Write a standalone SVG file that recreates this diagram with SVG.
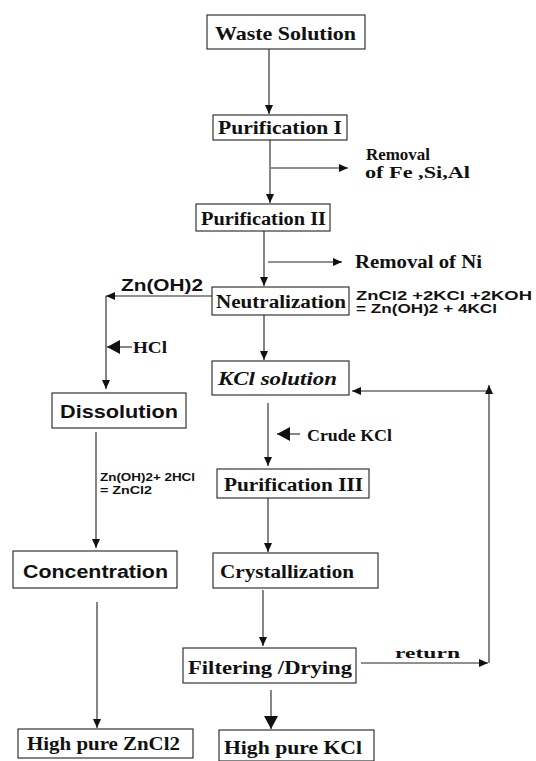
<svg xmlns="http://www.w3.org/2000/svg" width="536" height="761" viewBox="0 0 536 761">
<defs>
<marker id="ah" markerUnits="userSpaceOnUse" markerWidth="10" markerHeight="10" viewBox="0 0 10 10" refX="9" refY="5" orient="auto">
<path d="M0,1 L9,5 L0,9 Z" fill="#111"/>
</marker>
<marker id="ahb" markerUnits="userSpaceOnUse" markerWidth="14" markerHeight="16" viewBox="0 0 14 16" refX="13" refY="8" orient="auto">
<path d="M0,1 L13,8 L0,15 Z" fill="#111"/>
</marker>
</defs>
<style>
.box{fill:#fff;stroke:#222;stroke-width:1.1}
.ln{fill:none;stroke:#222;stroke-width:1.1}
.a{marker-end:url(#ah)}
.ab{marker-end:url(#ahb)}
.sf{font-family:"Liberation Serif","Times New Roman",serif;font-weight:bold;fill:#111}
.ss{font-family:"Liberation Sans",Arial,sans-serif;font-weight:bold;fill:#111}
</style>
<rect width="536" height="761" fill="#fff"/>

<g id="connectors">
<line class="ln a" x1="269" y1="49" x2="269" y2="114"/>
<line class="ln a" x1="270" y1="140" x2="270" y2="203"/>
<line class="ln a" x1="271" y1="168" x2="348" y2="168"/>
<line class="ln a" x1="264" y1="231" x2="264" y2="286"/>
<line class="ln a" x1="268" y1="262" x2="342" y2="262"/>
<line class="ln a" x1="212" y1="296" x2="106" y2="296"/>
<line class="ln a" x1="106" y1="296" x2="106" y2="389"/>
<line class="ln ab" x1="132" y1="347" x2="107" y2="347"/>
<line class="ln a" x1="264" y1="315" x2="264" y2="360"/>
<line class="ln a" x1="489" y1="663" x2="489" y2="385"/>
<line class="ln a" x1="487" y1="391" x2="352" y2="391"/>
<line class="ln a" x1="361" y1="663" x2="488" y2="663"/>
<line class="ln a" x1="268" y1="403" x2="268" y2="466"/>
<line class="ln ab" x1="300" y1="434" x2="277" y2="434"/>
<line class="ln a" x1="96" y1="432" x2="96" y2="548"/>
<line class="ln a" x1="268" y1="498" x2="268" y2="552"/>
<line class="ln a" x1="97" y1="602" x2="97" y2="728"/>
<line class="ln a" x1="263" y1="590" x2="263" y2="646"/>
<line class="ln ab" x1="271" y1="690" x2="271" y2="729"/>
</g>

<g id="waste"><rect class="box" x="207" y="15" width="158" height="34"/>
<text class="sf" x="215" y="40" font-size="19" textLength="141" lengthAdjust="spacingAndGlyphs">Waste Solution</text></g>

<g id="pur1"><rect class="box" x="213" y="115" width="134" height="25"/>
<text class="sf" x="218" y="134" font-size="18" textLength="124" lengthAdjust="spacingAndGlyphs">Purification I</text></g>

<g id="rem1">
<text class="sf" x="366" y="160" font-size="16" textLength="64" lengthAdjust="spacingAndGlyphs">Removal</text>
<text class="sf" x="365" y="178" font-size="16" textLength="105" lengthAdjust="spacingAndGlyphs">of  Fe ,Si,Al</text></g>

<g id="pur2"><rect class="box" x="196" y="204" width="134" height="27"/>
<text class="sf" x="201" y="225" font-size="18" textLength="125" lengthAdjust="spacingAndGlyphs">Purification II</text></g>

<g id="rem2"><text class="sf" x="355" y="268" font-size="18" textLength="127" lengthAdjust="spacingAndGlyphs">Removal of Ni</text></g>

<g id="znoh"><text class="ss" x="121" y="291" font-size="17" textLength="82" lengthAdjust="spacingAndGlyphs">Zn(OH)2</text></g>

<g id="neut"><rect class="box" x="212" y="287" width="137" height="28"/>
<text class="sf" x="216" y="308" font-size="18" textLength="130" lengthAdjust="spacingAndGlyphs">Neutralization</text></g>

<g id="eq1">
<text class="ss" x="356" y="300" font-size="12" textLength="176" lengthAdjust="spacingAndGlyphs">ZnCl2 +2KCl +2KOH</text>
<text class="ss" x="356" y="313" font-size="12" textLength="141" lengthAdjust="spacingAndGlyphs">= Zn(OH)2 + 4KCl</text></g>

<g id="hcl"><text class="sf" x="133" y="353" font-size="16" textLength="34" lengthAdjust="spacingAndGlyphs">HCl</text></g>

<g id="kcl"><rect class="box" x="212" y="361" width="137" height="34"/>
<text class="sf" x="218" y="385" font-size="18" font-style="italic" textLength="119" lengthAdjust="spacingAndGlyphs">KCl solution</text></g>

<g id="diss"><rect class="box" x="52" y="393" width="134" height="35"/>
<text class="ss" x="60" y="418" font-size="18" textLength="118" lengthAdjust="spacingAndGlyphs">Dissolution</text></g>

<g id="crude"><text class="sf" x="307" y="441" font-size="17" textLength="85" lengthAdjust="spacingAndGlyphs">Crude KCl</text></g>

<g id="eq2">
<text class="ss" x="100" y="481" font-size="11" textLength="95" lengthAdjust="spacingAndGlyphs">Zn(OH)2+ 2HCl</text>
<text class="ss" x="100" y="494" font-size="11" textLength="52" lengthAdjust="spacingAndGlyphs">= ZnCl2</text></g>

<g id="pur3"><rect class="box" x="217" y="469" width="152" height="29"/>
<text class="sf" x="224" y="491" font-size="18" textLength="139" lengthAdjust="spacingAndGlyphs">Purification III</text></g>

<g id="conc"><rect class="box" x="13" y="551" width="164" height="37"/>
<text class="ss" x="23" y="578" font-size="18" textLength="145" lengthAdjust="spacingAndGlyphs">Concentration</text></g>

<g id="cryst"><rect class="box" x="213" y="553" width="165" height="35"/>
<text class="sf" x="220" y="578" font-size="18" textLength="134" lengthAdjust="spacingAndGlyphs">Crystallization</text></g>

<g id="ret"><text class="sf" x="395" y="658" font-size="14" textLength="65" lengthAdjust="spacingAndGlyphs">return</text></g>

<g id="filt"><rect class="box" x="183" y="648" width="173" height="35"/>
<text class="sf" x="188" y="674" font-size="18" textLength="164" lengthAdjust="spacingAndGlyphs">Filtering /Drying</text></g>

<g id="hpzn"><rect class="box" x="18" y="729" width="175" height="29"/>
<text class="sf" x="27" y="750" font-size="18" textLength="153" lengthAdjust="spacingAndGlyphs">High pure ZnCl2</text></g>

<g id="hpk"><rect class="box" x="219" y="730" width="155" height="31"/>
<text class="sf" x="224" y="754" font-size="18" textLength="138" lengthAdjust="spacingAndGlyphs">High pure KCl</text></g>
</svg>
